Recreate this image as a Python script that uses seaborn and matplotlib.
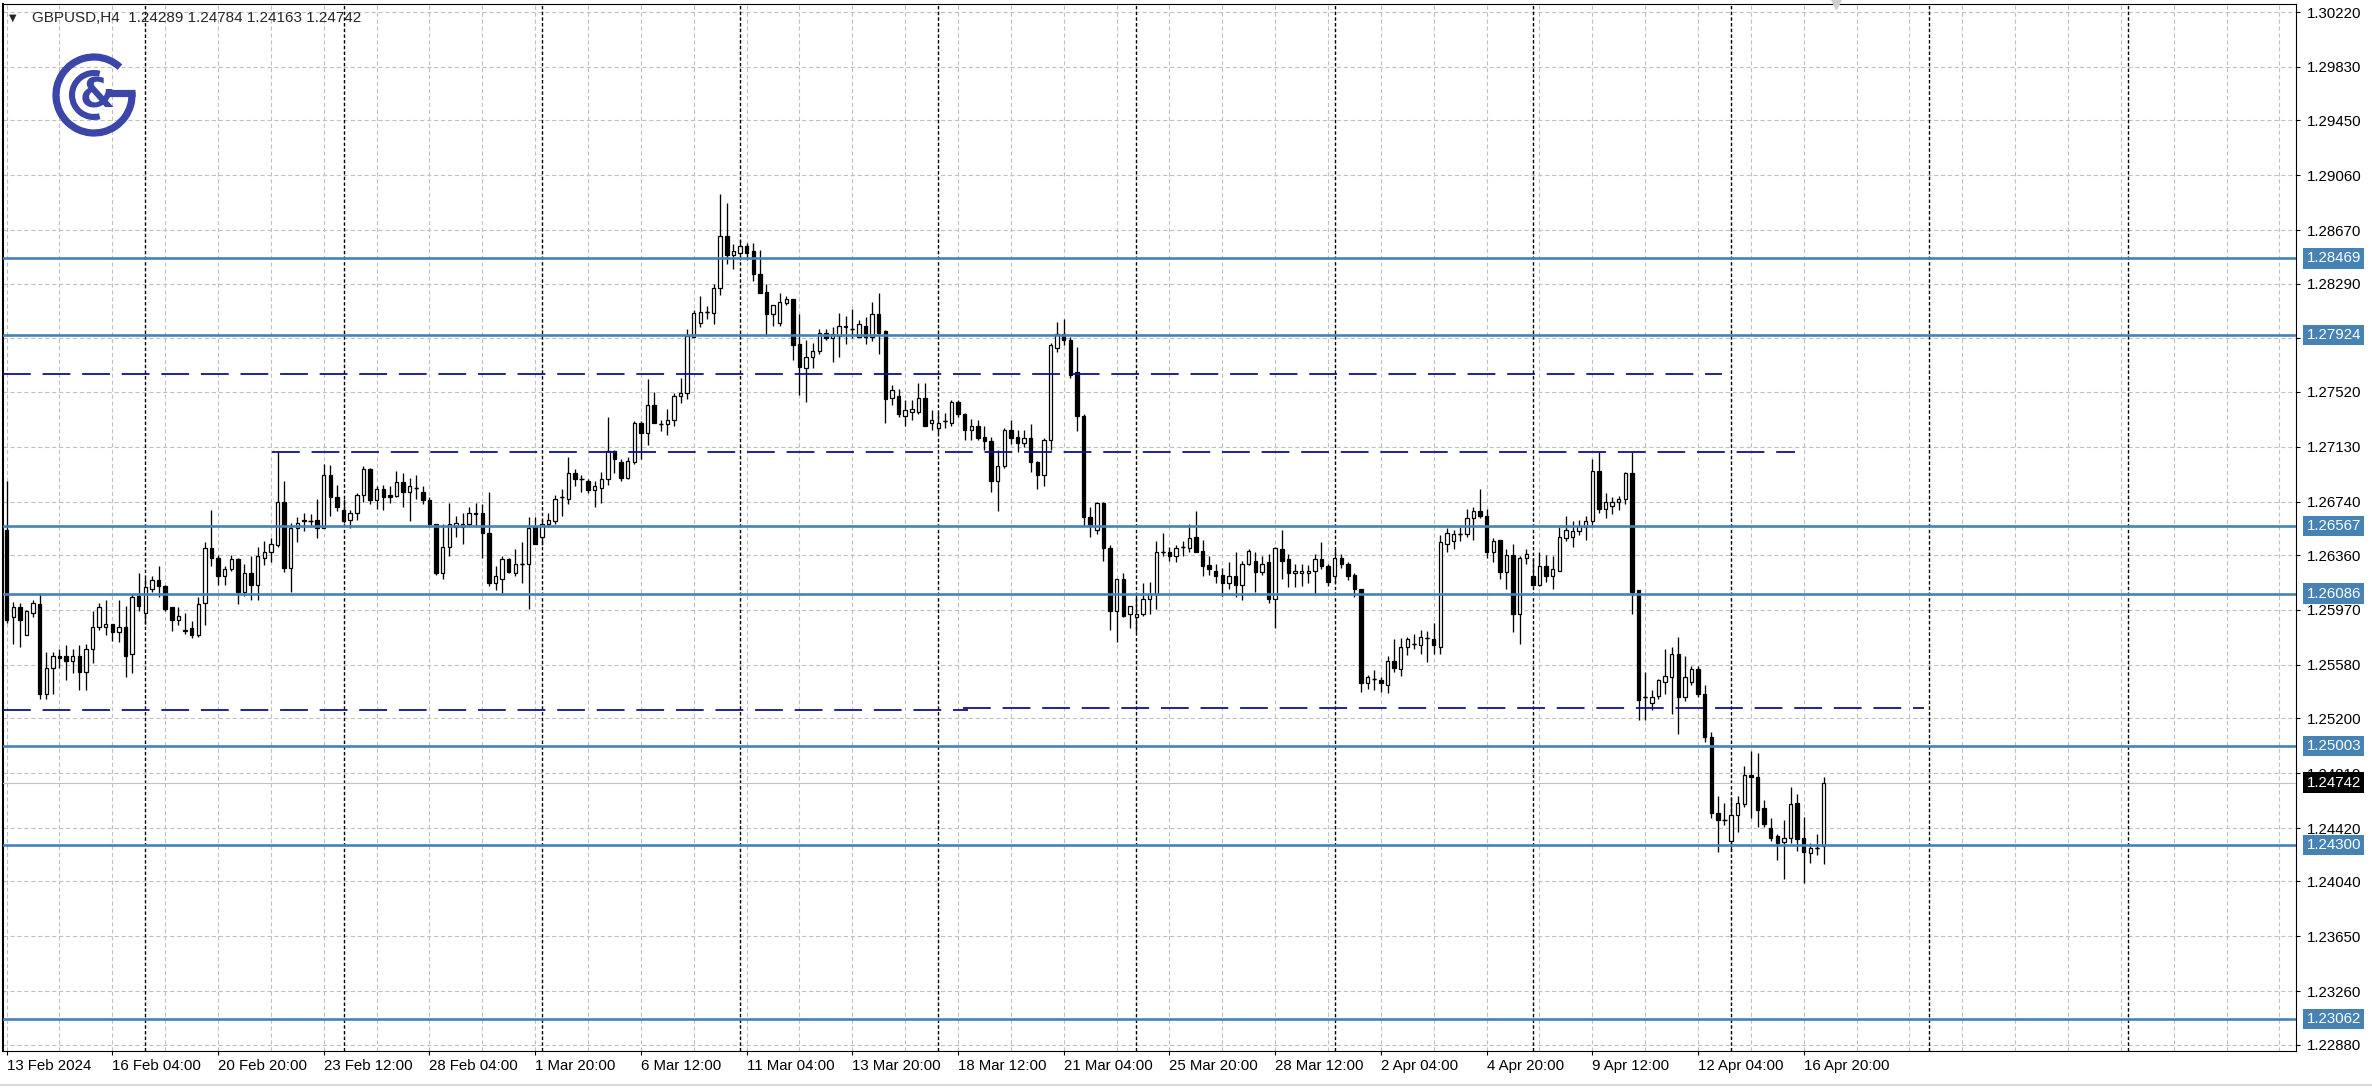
import matplotlib
matplotlib.use("Agg")
import matplotlib.pyplot as plt
import seaborn as sns
import numpy as np
from matplotlib.patches import Arc
from matplotlib.lines import Line2D

# ---- chart data (GBPUSD, H4 candles, first bar = 13 Feb 2024 12:00) ----
opens = [
    1.2654, 1.2592, 1.2599, 1.2579, 1.2595, 1.2601, 1.2537, 1.2556, 1.2564, 1.2564,
    1.2561, 1.2564, 1.2553, 1.2569, 1.2585, 1.2585, 1.2587, 1.2581, 1.2585, 1.2566,
    1.2607, 1.2595, 1.2612, 1.2618, 1.2614, 1.2599, 1.2590, 1.2583, 1.2584, 1.2579,
    1.2602, 1.2641, 1.2634, 1.2621, 1.2626, 1.2633, 1.2610, 1.2623, 1.2615, 1.2634,
    1.2638, 1.2643, 1.2674, 1.2627, 1.2655, 1.2660, 1.2660, 1.2661, 1.2655, 1.2693,
    1.2677, 1.2668, 1.2661, 1.2666, 1.2679, 1.2697, 1.2675, 1.2683, 1.2679, 1.2678,
    1.2688, 1.2681, 1.2684, 1.2681, 1.2675, 1.2658, 1.2623, 1.2642, 1.2656, 1.2656,
    1.2658, 1.2666, 1.2666, 1.2652, 1.2616, 1.2619, 1.2633, 1.2623, 1.2630, 1.2630,
    1.2656, 1.2649, 1.2658, 1.2660, 1.2677, 1.2676, 1.2694, 1.2690, 1.2689, 1.2682,
    1.2684, 1.2690, 1.2710, 1.2702, 1.2691, 1.2702, 1.2730, 1.2723, 1.2743, 1.2729,
    1.2729, 1.2732, 1.2749, 1.2751, 1.2791, 1.2801, 1.2809, 1.2808, 1.2826, 1.2863,
    1.2849, 1.2851, 1.2856, 1.2852, 1.2836, 1.2823, 1.2807, 1.2801, 1.2815, 1.2818,
    1.2786, 1.2769, 1.2777, 1.2781, 1.2794, 1.2790, 1.2792, 1.2799, 1.2797, 1.2791,
    1.2799, 1.2791, 1.2807, 1.2795, 1.2748, 1.2749, 1.2735, 1.2738, 1.2738, 1.2748,
    1.2730, 1.2726, 1.2731, 1.2730, 1.2745, 1.2736, 1.2725, 1.2728, 1.2720, 1.2717,
    1.2689, 1.2699, 1.2725, 1.2720, 1.2716, 1.2719, 1.2702, 1.2693, 1.2718, 1.2783,
    1.2793, 1.2789, 1.2766, 1.2735, 1.2663, 1.2654, 1.2673, 1.2641, 1.2596, 1.2619,
    1.2594, 1.2592, 1.2594, 1.2605, 1.2608, 1.2638, 1.2638, 1.2635, 1.2642, 1.2641,
    1.2649, 1.2639, 1.2629, 1.2625, 1.2622, 1.2616, 1.2621, 1.2615, 1.2630, 1.2632,
    1.2624, 1.2631, 1.2605, 1.2640, 1.2633, 1.2623, 1.2623, 1.2623, 1.2625, 1.2633,
    1.2628, 1.2621, 1.2634, 1.2630, 1.2622, 1.2612, 1.2545, 1.2548, 1.2547, 1.2544,
    1.2561, 1.2555, 1.2571, 1.2573, 1.2572, 1.2577, 1.2576, 1.2571, 1.2644, 1.2646,
    1.2651, 1.2651, 1.2662, 1.2667, 1.2664, 1.2638, 1.2647, 1.2624, 1.2636, 1.2594,
    1.2634, 1.2621, 1.2615, 1.2628, 1.2621, 1.2625, 1.2648, 1.2649, 1.2653, 1.2656,
    1.2660, 1.2696, 1.2669, 1.2671, 1.2674, 1.2676, 1.2694, 1.2611, 1.2535, 1.2531,
    1.2536, 1.2546, 1.2549, 1.2566, 1.2535, 1.2546, 1.2555, 1.2537, 1.2507, 1.2453,
    1.2448, 1.2433, 1.2451, 1.2459, 1.2480, 1.2478, 1.2456, 1.2442, 1.2436, 1.2432,
    1.2435, 1.2460, 1.2435, 1.2424, 1.2428, 1.24289,
]
highs = [
    1.2689, 1.2603, 1.2602, 1.2597, 1.2604, 1.2609, 1.2567, 1.2567, 1.2569, 1.2572,
    1.2569, 1.2572, 1.2573, 1.2596, 1.2602, 1.2604, 1.2587, 1.2604, 1.2600, 1.2608,
    1.2623, 1.2620, 1.2621, 1.2628, 1.2615, 1.2599, 1.2599, 1.2595, 1.2589, 1.2606,
    1.2645, 1.2668, 1.2636, 1.2628, 1.2636, 1.2634, 1.2630, 1.2635, 1.2642, 1.2646,
    1.2648, 1.2709, 1.2689, 1.2659, 1.2663, 1.2666, 1.2665, 1.2676, 1.2701, 1.2700,
    1.2686, 1.2676, 1.2668, 1.2680, 1.2699, 1.2698, 1.2685, 1.2686, 1.2685, 1.2696,
    1.2694, 1.2691, 1.2693, 1.2685, 1.2677, 1.2658, 1.2658, 1.2673, 1.2664, 1.2666,
    1.2670, 1.2673, 1.2672, 1.2681, 1.2628, 1.2635, 1.2634, 1.2640, 1.2645, 1.2663,
    1.2663, 1.2661, 1.2666, 1.2679, 1.2683, 1.2706, 1.2697, 1.2693, 1.2690, 1.2689,
    1.2695, 1.2734, 1.2711, 1.2704, 1.2706, 1.2731, 1.2731, 1.2761, 1.2752, 1.2732,
    1.2740, 1.2751, 1.2762, 1.2797, 1.2810, 1.2820, 1.2813, 1.2829, 1.2893, 1.2886,
    1.2857, 1.2860, 1.2858, 1.2858, 1.2853, 1.2829, 1.2814, 1.2822, 1.2820, 1.2818,
    1.2807, 1.2789, 1.2787, 1.2797, 1.2797, 1.2798, 1.2808, 1.2806, 1.2811, 1.2803,
    1.2805, 1.2816, 1.2822, 1.2796, 1.2757, 1.2754, 1.2746, 1.2746, 1.2758, 1.2758,
    1.2739, 1.2738, 1.2737, 1.2746, 1.2746, 1.2737, 1.2733, 1.2732, 1.2728, 1.2720,
    1.2711, 1.2726, 1.2732, 1.2725, 1.2725, 1.2729, 1.2703, 1.2719, 1.2787, 1.2802,
    1.2804, 1.2791, 1.2784, 1.2736, 1.2670, 1.2674, 1.2674, 1.2643, 1.2619, 1.2623,
    1.2600, 1.2609, 1.2616, 1.2617, 1.2646, 1.2652, 1.2642, 1.2643, 1.2646, 1.2658,
    1.2667, 1.2647, 1.2635, 1.2630, 1.2627, 1.2631, 1.2638, 1.2632, 1.2640, 1.2638,
    1.2635, 1.2637, 1.2642, 1.2654, 1.2637, 1.2630, 1.2630, 1.2629, 1.2637, 1.2645,
    1.2630, 1.2640, 1.2637, 1.2631, 1.2623, 1.2612, 1.2551, 1.2554, 1.2549, 1.2564,
    1.2576, 1.2577, 1.2578, 1.2580, 1.2583, 1.2582, 1.2588, 1.2650, 1.2655, 1.2654,
    1.2656, 1.2669, 1.2670, 1.2683, 1.2669, 1.2648, 1.2647, 1.2640, 1.2644, 1.2635,
    1.2640, 1.2634, 1.2638, 1.2636, 1.2635, 1.2656, 1.2664, 1.2660, 1.2661, 1.2664,
    1.2704, 1.2709, 1.2680, 1.2677, 1.2678, 1.2695, 1.2709, 1.2611, 1.2553, 1.2540,
    1.2548, 1.2569, 1.2571, 1.2578, 1.2564, 1.2557, 1.2557, 1.2544, 1.2510, 1.2465,
    1.2460, 1.2464, 1.2465, 1.2486, 1.2497, 1.2495, 1.2462, 1.2449, 1.2438, 1.2448,
    1.2471, 1.2466, 1.2450, 1.2431, 1.2438, 1.24784,
]
lows = [
    1.2588, 1.2573, 1.2571, 1.2579, 1.2592, 1.2534, 1.2534, 1.2537, 1.2556, 1.2547,
    1.2552, 1.2540, 1.2540, 1.2559, 1.2583, 1.2579, 1.2575, 1.2574, 1.2549, 1.2552,
    1.2596, 1.2587, 1.2610, 1.2606, 1.2596, 1.2582, 1.2586, 1.2580, 1.2577, 1.2578,
    1.2586, 1.2628, 1.2615, 1.2615, 1.2625, 1.2601, 1.2607, 1.2604, 1.2604, 1.2629,
    1.2631, 1.2642, 1.2624, 1.2610, 1.2645, 1.2653, 1.2656, 1.2648, 1.2655, 1.2664,
    1.2667, 1.2659, 1.2655, 1.2661, 1.2674, 1.2672, 1.2669, 1.2668, 1.2673, 1.2677,
    1.2670, 1.2660, 1.2676, 1.2672, 1.2656, 1.2622, 1.2619, 1.2635, 1.2649, 1.2644,
    1.2657, 1.2656, 1.2634, 1.2614, 1.2611, 1.2609, 1.2623, 1.2621, 1.2616, 1.2598,
    1.2644, 1.2643, 1.2656, 1.2658, 1.2664, 1.2672, 1.2685, 1.2681, 1.2680, 1.2670,
    1.2673, 1.2686, 1.2694, 1.2689, 1.2690, 1.2701, 1.2704, 1.2714, 1.2730, 1.2724,
    1.2721, 1.2728, 1.2744, 1.2747, 1.2791, 1.2798, 1.2804, 1.2800, 1.2821, 1.2843,
    1.2839, 1.2846, 1.2846, 1.2831, 1.2822, 1.2792, 1.2799, 1.2799, 1.2814, 1.2775,
    1.2750, 1.2745, 1.2769, 1.2779, 1.2789, 1.2773, 1.2777, 1.2786, 1.2790, 1.2791,
    1.2786, 1.2788, 1.2779, 1.2730, 1.2743, 1.2734, 1.2728, 1.2732, 1.2736, 1.2728,
    1.2725, 1.2723, 1.2726, 1.2728, 1.2734, 1.2718, 1.2718, 1.2718, 1.2711, 1.2681,
    1.2667, 1.2698, 1.2715, 1.2709, 1.2713, 1.2695, 1.2683, 1.2685, 1.2711, 1.2780,
    1.2785, 1.2762, 1.2724, 1.2657, 1.2649, 1.2651, 1.2632, 1.2583, 1.2574, 1.2592,
    1.2584, 1.2581, 1.2593, 1.2594, 1.2598, 1.2635, 1.2632, 1.2631, 1.2635, 1.2638,
    1.2638, 1.2621, 1.2622, 1.2616, 1.2607, 1.2612, 1.2606, 1.2604, 1.2629, 1.2610,
    1.2622, 1.2602, 1.2584, 1.2619, 1.2613, 1.2613, 1.2614, 1.2616, 1.2608, 1.2626,
    1.2614, 1.2616, 1.2627, 1.2618, 1.2606, 1.2539, 1.2541, 1.2540, 1.2539, 1.2538,
    1.2553, 1.2550, 1.2565, 1.2569, 1.2566, 1.2560, 1.2566, 1.2566, 1.2638, 1.2640,
    1.2646, 1.2649, 1.2647, 1.2662, 1.2634, 1.2631, 1.2619, 1.2612, 1.2581, 1.2573,
    1.2630, 1.2614, 1.2614, 1.2617, 1.2612, 1.2625, 1.2646, 1.2642, 1.2650, 1.2647,
    1.2656, 1.2666, 1.2662, 1.2665, 1.2668, 1.2672, 1.2594, 1.2519, 1.2519, 1.2526,
    1.2534, 1.2537, 1.2523, 1.2509, 1.2532, 1.2544, 1.2535, 1.2503, 1.2449, 1.2425,
    1.2444, 1.2426, 1.2439, 1.2457, 1.2449, 1.2443, 1.2443, 1.2433, 1.2419, 1.2406,
    1.2431, 1.2426, 1.2403, 1.2417, 1.2423, 1.24163,
]
closes = [
    1.2590, 1.2599, 1.2590, 1.2596, 1.2602, 1.2537, 1.2556, 1.2564, 1.2563, 1.2561,
    1.2564, 1.2553, 1.2569, 1.2585, 1.2599, 1.2587, 1.2581, 1.2585, 1.2564, 1.2606,
    1.2600, 1.2613, 1.2618, 1.2614, 1.2598, 1.2590, 1.2593, 1.2582, 1.2579, 1.2601,
    1.2641, 1.2634, 1.2621, 1.2626, 1.2633, 1.2610, 1.2623, 1.2615, 1.2635, 1.2638,
    1.2644, 1.2674, 1.2627, 1.2655, 1.2659, 1.2661, 1.2660, 1.2655, 1.2693, 1.2677,
    1.2670, 1.2660, 1.2666, 1.2679, 1.2697, 1.2675, 1.2683, 1.2677, 1.2677, 1.2688,
    1.2681, 1.2685, 1.2684, 1.2675, 1.2658, 1.2623, 1.2642, 1.2658, 1.2659, 1.2658,
    1.2666, 1.2665, 1.2652, 1.2616, 1.2621, 1.2633, 1.2624, 1.2630, 1.2630, 1.2655,
    1.2644, 1.2658, 1.2661, 1.2676, 1.2677, 1.2694, 1.2690, 1.2690, 1.2682, 1.2685,
    1.2690, 1.2710, 1.2704, 1.2691, 1.2703, 1.2730, 1.2723, 1.2743, 1.2730, 1.2729,
    1.2732, 1.2749, 1.2751, 1.2792, 1.2808, 1.2809, 1.2809, 1.2826, 1.2863, 1.2849,
    1.2852, 1.2856, 1.2851, 1.2836, 1.2822, 1.2807, 1.2814, 1.2816, 1.2818, 1.2785,
    1.2770, 1.2777, 1.2781, 1.2794, 1.2790, 1.2793, 1.2799, 1.2798, 1.2797, 1.2800,
    1.2791, 1.2807, 1.2794, 1.2747, 1.2753, 1.2736, 1.2739, 1.2740, 1.2748, 1.2728,
    1.2732, 1.2730, 1.2731, 1.2745, 1.2736, 1.2725, 1.2728, 1.2719, 1.2717, 1.2689,
    1.2699, 1.2725, 1.2719, 1.2716, 1.2719, 1.2702, 1.2693, 1.2718, 1.2785, 1.2793,
    1.2789, 1.2764, 1.2735, 1.2663, 1.2657, 1.2673, 1.2641, 1.2596, 1.2619, 1.2593,
    1.2600, 1.2594, 1.2605, 1.2608, 1.2638, 1.2638, 1.2635, 1.2641, 1.2642, 1.2648,
    1.2638, 1.2628, 1.2626, 1.2621, 1.2616, 1.2621, 1.2615, 1.2630, 1.2639, 1.2624,
    1.2630, 1.2605, 1.2641, 1.2632, 1.2623, 1.2625, 1.2625, 1.2625, 1.2633, 1.2628,
    1.2617, 1.2634, 1.2630, 1.2621, 1.2612, 1.2545, 1.2549, 1.2548, 1.2545, 1.2561,
    1.2556, 1.2571, 1.2576, 1.2573, 1.2578, 1.2577, 1.2572, 1.2645, 1.2652, 1.2651,
    1.2651, 1.2662, 1.2667, 1.2664, 1.2638, 1.2646, 1.2624, 1.2636, 1.2594, 1.2634,
    1.2637, 1.2615, 1.2628, 1.2621, 1.2626, 1.2649, 1.2654, 1.2653, 1.2657, 1.2660,
    1.2696, 1.2669, 1.2674, 1.2674, 1.2676, 1.2694, 1.2610, 1.2533, 1.2535, 1.2535,
    1.2547, 1.2550, 1.2566, 1.2535, 1.2549, 1.2555, 1.2537, 1.2507, 1.2453, 1.2448,
    1.2448, 1.2451, 1.2460, 1.2480, 1.2478, 1.2455, 1.2445, 1.2435, 1.2431, 1.2435,
    1.2459, 1.2434, 1.2425, 1.2428, 1.2428, 1.24742,
]

time_labels = ["13 Feb 2024", "16 Feb 04:00", "20 Feb 20:00", "23 Feb 12:00", "28 Feb 04:00",
               "1 Mar 20:00", "6 Mar 12:00", "11 Mar 04:00", "13 Mar 20:00", "18 Mar 12:00",
               "21 Mar 04:00", "25 Mar 20:00", "28 Mar 12:00", "2 Apr 04:00", "4 Apr 20:00",
               "9 Apr 12:00", "12 Apr 04:00", "16 Apr 20:00"]
price_ticks = [1.30220, 1.29830, 1.29450, 1.29060, 1.28670, 1.28290, 1.27900, 1.27520,
               1.27130, 1.26740, 1.26360, 1.25970, 1.25580, 1.25200, 1.24810, 1.24420,
               1.24040, 1.23650, 1.23260, 1.22880]
levels = [1.28469, 1.27924, 1.26567, 1.26086, 1.25003, 1.24300, 1.23062]
# dashed trend levels: (price, first bar, last bar)
dashed_levels = [(1.27644, -0.6, 259.6), (1.27090, 40.1, 270.7),
                 (1.25258, -0.6, 145.5), (1.25275, 144.8, 290.2)]

W, H = 2372, 1089
sns.set_theme(style="white")
plt.rcParams['font.family'] = ['Liberation Sans', 'DejaVu Sans']
plt.rcParams['lines.scale_dashes'] = False

fig = plt.figure(figsize=(W / 100, H / 100), dpi=100)
fig.patch.set_facecolor('white')
ax = fig.add_axes([3 / W, 38 / H, 2293 / W, 1047 / H])
ax.set_facecolor('white')

n_bars = 347
ax.set_xlim(-0.55, 346.5)
ax.set_ylim(1.22835, 1.30277)

# grid
for p in price_ticks:
    ax.axhline(p, color='#c0c0c0', lw=0.8, dashes=(3, 2), zorder=1)
for i in range(0, n_bars, 8):
    ax.axvline(i, color='#c0c0c0', lw=0.8, dashes=(3, 2), zorder=1)
for i in range(21, n_bars, 30):
    ax.axvline(i, color='black', lw=1.0, dashes=(2.5, 1.6), zorder=1.5)

# candles
o = np.array(opens)
h = np.array(highs)
l = np.array(lows)
c = np.array(closes)
idx = np.arange(len(c))
up = c >= o
ax.vlines(idx, l, h, color='black', lw=0.95, zorder=4)
ax.bar(idx, np.abs(c - o), bottom=np.minimum(o, c), width=0.52,
       color=np.where(up, 'white', 'black'), edgecolor='black', linewidth=0.9, zorder=5)
doji = c == o
ax.hlines(o[doji], idx[doji] - 0.32, idx[doji] + 0.32, color='black', lw=1.0, zorder=6)

# horizontal levels
for lv in levels:
    ax.axhline(lv, color='#4682B4', lw=1.9, zorder=7)
for p, x0, x1 in dashed_levels:
    ax.plot([x0, x1], [p, p], color='#10108f', lw=1.3, dashes=(20, 8.5), zorder=7)
ax.axhline(closes[-1], color='#c0c0c0', lw=0.8, zorder=3)

# axes
ax.set_xticks(range(0, 16 * len(time_labels), 16))
ax.set_xticklabels(time_labels)
for t in ax.get_xticklabels():
    t.set_ha('left')
ax.yaxis.tick_right()
ax.set_yticks(price_ticks)
ax.set_yticklabels([f"{p:.5f}" for p in price_ticks])
ax.tick_params(axis='x', direction='out', length=3, width=0.8, pad=2.5,
               labelsize=10.8, colors='black', bottom=True)
ax.tick_params(axis='y', direction='out', length=3, width=0.8, pad=4.5,
               labelsize=10.8, colors='black', right=True, left=False)
for side, sp in ax.spines.items():
    sp.set_visible(True)
    sp.set_color('black')
    sp.set_linewidth(0.8)
ax.spines['left'].set_linewidth(1.5)

# price tags on the right
for lv in levels:
    ax.annotate(f"{lv:.5f}", xy=(1, lv), xycoords=ax.get_yaxis_transform(),
                xytext=(7.7, 0), textcoords='offset points', ha='left', va='center',
                color='white', fontsize=10.8, annotation_clip=False, zorder=20,
                bbox=dict(boxstyle='square,pad=0.22', fc='#4682B4', ec='none'))
ax.annotate(f"{closes[-1]:.5f}", xy=(1, closes[-1]), xycoords=ax.get_yaxis_transform(),
            xytext=(7.7, 0), textcoords='offset points', ha='left', va='center',
            color='white', fontsize=10.8, annotation_clip=False, zorder=21,
            bbox=dict(boxstyle='square,pad=0.22', fc='black', ec='none'))

# header
fig.text(9 / W, 1 - 18 / H, "\u25bc", fontsize=7, va='center', ha='left',
         family=['DejaVu Sans'])
fig.text(32 / W, 1 - 18 / H,
         f"GBPUSD,H4  {opens[-1]:.5f} {highs[-1]:.5f} {lows[-1]:.5f} {closes[-1]:.5f}",
         fontsize=11, va='center', ha='left')
ax.plot([0.7995], [1.0], marker='v', ms=7, color='#d0d0d0', transform=ax.transAxes,
        clip_on=False, zorder=8)

# logo
blue = '#3c46a8'
lax = fig.add_axes([44 / W, 1 - 145 / H, 100 / W, 100 / H])
lax.set_xlim(-50, 50)
lax.set_ylim(-50, 50)
lax.set_aspect('equal')
lax.axis('off')
lax.add_patch(Arc((0, 0), 76, 76, theta1=47, theta2=364, lw=5.2, color=blue))
lax.plot([14, 41.5], [2.5, 2.5], color=blue, lw=5.2, solid_capstyle='butt')
lax.add_patch(Arc((0, 0), 44, 44, theta1=75, theta2=285, lw=4.4, color=blue))
lax.text(3, -1, "&", fontsize=29, fontweight='bold', color=blue, ha='center',
         va='center', family=['DejaVu Sans'])

fig.add_artist(Line2D([0, 1], [4 / H, 4 / H], color='#dcdcdc', lw=1.5))

fig.savefig("out.png", dpi=100, facecolor='white')
